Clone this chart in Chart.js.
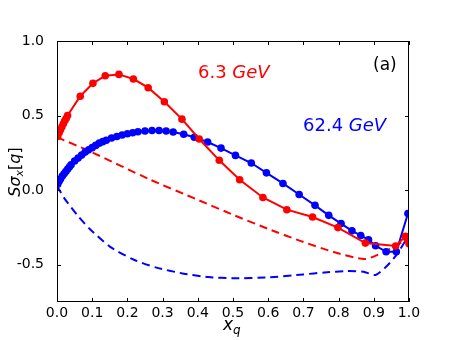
<!DOCTYPE html>
<html>
<head>
<meta charset="utf-8">
<script src="https://cdn.jsdelivr.net/npm/chart.js@4"></script>
<style>
  html, body { margin: 0; padding: 0; background: #fff; }
  #wrap { width: 454px; height: 340px; }
</style>
</head>
<body>
<div id="wrap"><canvas id="chart" width="454" height="340"></canvas></div>
<script>
// 6.3 GeV, solid line with markers
const redX = [0.002, 0.006, 0.01, 0.014, 0.018, 0.022, 0.026, 0.03, 0.066, 0.102, 0.137, 0.176, 0.217, 0.259, 0.305, 0.355, 0.404, 0.461, 0.519, 0.585, 0.653, 0.726, 0.798, 0.876, 0.962, 0.99, 0.995, 1.0];
const redY = [0.36, 0.385, 0.405, 0.425, 0.445, 0.465, 0.48, 0.5, 0.63, 0.716, 0.767, 0.776, 0.745, 0.687, 0.593, 0.476, 0.343, 0.2, 0.07, -0.049, -0.131, -0.18, -0.251, -0.355, -0.375, -0.31, -0.33, -0.36];

// 62.4 GeV, solid line with markers
const blueX = [0.002, 0.006, 0.01, 0.015, 0.02, 0.025, 0.03, 0.035, 0.04, 0.05, 0.06, 0.07, 0.08, 0.09, 0.1, 0.11, 0.12, 0.13, 0.14, 0.155, 0.17, 0.185, 0.2, 0.215, 0.23, 0.25, 0.27, 0.29, 0.31, 0.33, 0.36, 0.39, 0.428, 0.466, 0.507, 0.552, 0.595, 0.642, 0.688, 0.733, 0.772, 0.807, 0.838, 0.863, 0.885, 0.905, 0.935, 0.964, 0.997];
const blueY = [0.04, 0.06, 0.075, 0.095, 0.11, 0.125, 0.14, 0.155, 0.17, 0.195, 0.215, 0.235, 0.255, 0.27, 0.285, 0.3, 0.315, 0.325, 0.335, 0.35, 0.36, 0.37, 0.378, 0.385, 0.392, 0.397, 0.4, 0.4, 0.397, 0.39, 0.375, 0.355, 0.323, 0.282, 0.233, 0.182, 0.116, 0.045, -0.029, -0.102, -0.169, -0.224, -0.273, -0.304, -0.333, -0.373, -0.413, -0.413, -0.157];

// dashed curves
const redDashX = [0, 0.089, 0.264, 0.4, 0.5, 0.6, 0.691, 0.786, 0.876, 0.962, 1.0];
const redDashY = [0.355, 0.265, 0.071, -0.065, -0.165, -0.26, -0.34, -0.415, -0.462, -0.375, -0.31];
const blueDashX = [0, 0.023, 0.06, 0.094, 0.151, 0.217, 0.28, 0.36, 0.43, 0.5, 0.6, 0.7, 0.76, 0.824, 0.871, 0.905, 0.938, 0.966, 1.0];
const blueDashY = [0.027, -0.062, -0.175, -0.262, -0.38, -0.465, -0.518, -0.56, -0.583, -0.591, -0.585, -0.565, -0.552, -0.543, -0.547, -0.569, -0.507, -0.429, -0.3];

const xTicks = [0, 0.1, 0.2, 0.3, 0.4, 0.5, 0.6, 0.7, 0.8, 0.9, 1.0];
const yTicks = [-0.5, 0, 0.5, 1.0];

function pts(xs, ys) {
  return xs.map((x, i) => ({ x: x, y: ys[i] }));
}

// frame, inward ticks and text labels (matplotlib look)
const decor = {
  id: 'decor',
  afterDraw(chart) {
    const ctx = chart.ctx;
    const a = chart.chartArea;
    const sx = chart.scales.x, sy = chart.scales.y;
    ctx.save();
    ctx.strokeStyle = '#000';
    ctx.lineWidth = 1;
    ctx.strokeRect(a.left + 0.5, a.top + 0.5, a.right - a.left - 1, a.bottom - a.top - 1);
    ctx.beginPath();
    xTicks.forEach(v => {
      const p = Math.round(sx.getPixelForValue(v)) + 0.5;
      ctx.moveTo(p, a.bottom); ctx.lineTo(p, a.bottom - 4);
      ctx.moveTo(p, a.top); ctx.lineTo(p, a.top + 4);
    });
    yTicks.forEach(v => {
      const p = Math.round(sy.getPixelForValue(v)) + 0.5;
      ctx.moveTo(a.left, p); ctx.lineTo(a.left + 4, p);
      ctx.moveTo(a.right, p); ctx.lineTo(a.right - 4, p);
    });
    ctx.stroke();

    // annotations
    ctx.textBaseline = 'alphabetic';
    ctx.textAlign = 'left';
    function mixed(parts, x, y, color) {
      ctx.fillStyle = color;
      parts.forEach(p => {
        ctx.font = p[1];
        ctx.fillText(p[0], x, y + (p[2] || 0));
        x += ctx.measureText(p[0]).width;
      });
    }
    const up = '18px "DejaVu Sans"', it = 'italic 18px "DejaVu Sans"';
    mixed([['6.3 ', up], ['GeV', it]], 198, 78, '#ff0000');
    mixed([['62.4 ', up], ['GeV', it]], 303, 131, '#0000ff');
    mixed([['(a)', '17px "DejaVu Sans"']], 373, 70, '#000');

    // x label
    const xl = [['x', 'italic 17px "DejaVu Sans"'], ['q', 'italic 12px "DejaVu Sans"', 4]];
    mixed(xl, 223, 330, '#000');

    // y label, rotated
    ctx.save();
    ctx.translate(20, 172);
    ctx.rotate(-Math.PI / 2);
    const yl = [['Sσ', 'italic 16px "DejaVu Sans"'], ['x', 'italic 11px "DejaVu Sans"', 3],
                ['[', '16px "DejaVu Sans"'], ['q', 'italic 16px "DejaVu Sans"'], [']', '16px "DejaVu Sans"']];
    let w = 0;
    yl.forEach(p => { ctx.font = p[1]; w += ctx.measureText(p[0]).width; });
    mixed(yl, -w / 2, 0, '#000');
    ctx.restore();
    ctx.restore();
  }
};

new Chart(document.getElementById('chart'), {
  type: 'line',
  data: {
    datasets: [
      {
        label: '6.3 GeV',
        data: pts(redX, redY),
        borderColor: '#ff0000',
        backgroundColor: '#ff0000',
        borderWidth: 2,
        pointRadius: 3.8,
        pointBorderWidth: 0,
        tension: 0
      },
      {
        label: '62.4 GeV',
        data: pts(blueX, blueY),
        borderColor: '#0000ff',
        backgroundColor: '#0000ff',
        borderWidth: 2,
        pointRadius: 3.8,
        pointBorderWidth: 0,
        tension: 0
      },
      {
        label: '6.3 GeV dashed',
        data: pts(redDashX, redDashY),
        borderColor: '#ff0000',
        borderWidth: 2,
        borderDash: [8, 5],
        pointRadius: 0,
        tension: 0.2
      },
      {
        label: '62.4 GeV dashed',
        data: pts(blueDashX, blueDashY),
        borderColor: '#0000ff',
        borderWidth: 2,
        borderDash: [8, 5],
        pointRadius: 0,
        tension: 0.2
      }
    ]
  },
  options: {
    responsive: false,
    animation: false,
    layout: { padding: { left: 0, right: 45, top: 41, bottom: 0 } },
    scales: {
      x: {
        type: 'linear',
        min: 0,
        max: 1,
        grid: { display: false },
        border: { display: false },
        afterBuildTicks: s => { s.ticks = xTicks.map(v => ({ value: v })); },
        afterFit: s => { s.height = 38; },
        ticks: {
          padding: -5,
          color: '#000',
          font: { family: 'DejaVu Sans', size: 14 },
          maxRotation: 0,
          callback: v => v.toFixed(1)
        }
      },
      y: {
        type: 'linear',
        min: -0.75,
        max: 1,
        grid: { display: false },
        border: { display: false },
        afterBuildTicks: s => { s.ticks = yTicks.map(v => ({ value: v })); },
        afterFit: s => { s.width = 57; },
        ticks: {
          padding: 5,
          color: '#000',
          font: { family: 'DejaVu Sans', size: 14 },
          callback: v => v.toFixed(1)
        }
      }
    },
    plugins: {
      legend: { display: false },
      tooltip: { enabled: false }
    }
  },
  plugins: [decor]
});
</script>
</body>
</html>
